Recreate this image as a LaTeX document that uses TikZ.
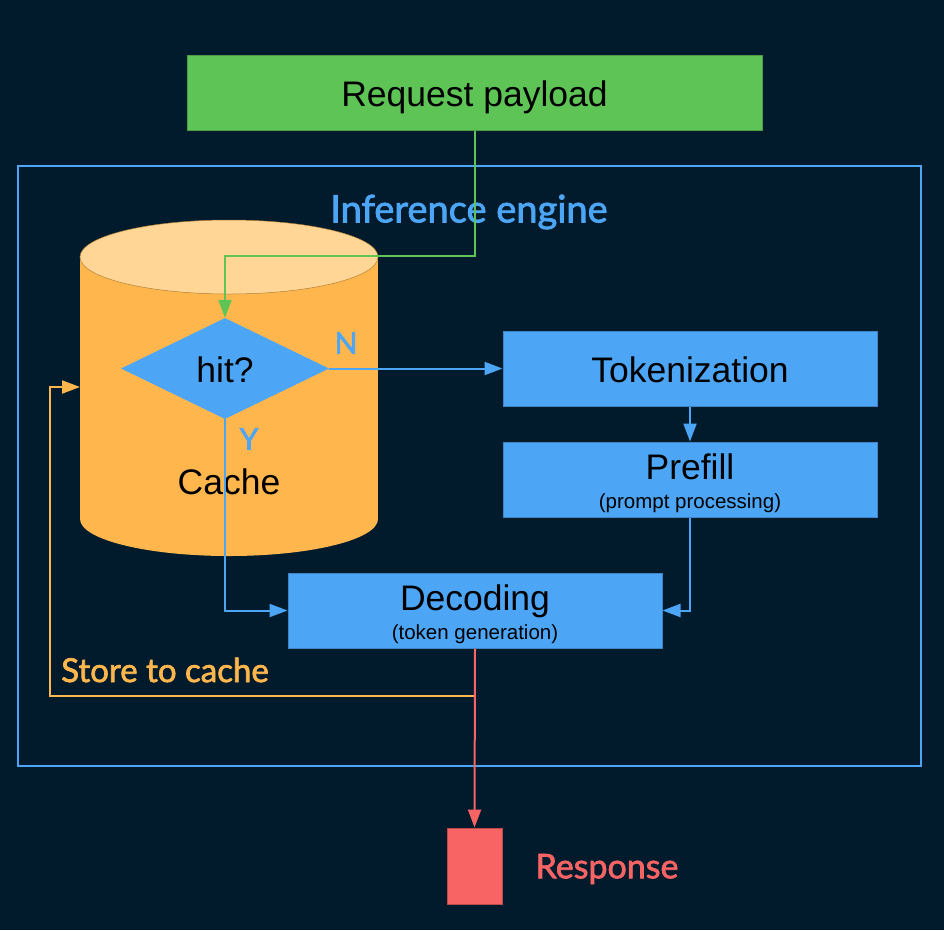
\documentclass[tikz,border=0pt]{standalone}
\usepackage{fontspec}
\setmainfont{Liberation Sans}
\newfontfamily\lblfont[FakeBold=2]{Lato}
\usetikzlibrary{arrows.meta,positioning,shapes.geometric}

\definecolor{navy}{RGB}{1,27,45}
\definecolor{reqgreen}{RGB}{93,196,85}
\definecolor{engblue}{RGB}{76,166,245}
\definecolor{cachebody}{RGB}{255,183,77}
\definecolor{cachetop}{RGB}{255,214,149}
\definecolor{resred}{RGB}{248,100,100}
\newcommand{\subtxt}{\fontsize{20.5}{24}\selectfont}
\newcommand{\lift}{\rule{0pt}{34pt}}

\begin{document}
\begin{tikzpicture}[x=1pt, y=-1pt,
  big/.style={font=\fontsize{35.5}{29}\selectfont},
  one/.style={text height=27pt, text depth=0pt},
  box/.style={draw=engblue!80!black, line width=1pt, fill=engblue, big, align=center,
    inner sep=0pt, minimum width=374pt, minimum height=75pt},
  decision/.style={diamond, fill=engblue, big, one, inner sep=0pt, aspect=2,
    minimum width=208pt, minimum height=101pt},
  lbl/.style={font=\lblfont\fontsize{34}{40}\selectfont, inner sep=0pt},
  arr/.style={-{Triangle[length=18pt,width=13pt]}, line width=2pt}]
\fill[navy] (0,0) rectangle (944,930);
\node[draw=reqgreen!80!black, line width=1pt, fill=reqgreen, big, one, inner sep=0pt,
  minimum width=575pt, minimum height=75pt] (request) at (474.5,92.5) {Request payload};
\node[draw=engblue, line width=2pt, minimum width=903pt, minimum height=600pt] (engine) at (469.5,466) {};
\node[lbl, text=engblue, font=\lblfont\fontsize{38}{44}\selectfont] (englbl) at (469,212) {Inference engine};
% cache drum
\fill[cachebody] (229,519) ellipse [x radius=149, y radius=37];
\fill[cachebody] (80,257) rectangle (378,519);
\fill[cachetop, draw=cachebody!70!black, line width=0.5pt] (229,257) ellipse [x radius=149, y radius=37];
\node[big, one] (cache) at (229,481) {Cache};
\coordinate (cachein) at (80,387);
\node[decision] (hit) at (225,368.5) {hit?};
\node[box, one] (tok) at (690,368.5) {Tokenization};
\node[box] (prefill) at (690,479.5) {\lift Prefill\\{\subtxt (prompt processing)}};
\node[box] (decode) at (475,610.5) {\lift Decoding\\{\subtxt (token generation)}};
\node[draw=resred!75!black, line width=1pt, fill=resred, minimum width=55pt,
  minimum height=76pt, inner sep=0pt] (resp) at (474.5,866) {};
\node[lbl, text=engblue, font=\lblfont\fontsize{30}{36}\selectfont] (nlbl) at (346,343) {N};
\node[lbl, text=engblue, font=\lblfont\fontsize{30}{36}\selectfont] (ylbl) at (249,439) {Y};
\node[lbl, text=cachebody, font=\lblfont\fontsize{33}{40}\selectfont] (storelbl) at (165,670) {Store to cache};
\node[lbl, text=resred] (resplbl) at (607,869) {Response};
\draw[arr, reqgreen] (request.south) -- ++(0,125) -| (hit.north);
\draw[arr, engblue] (hit.east) -- (tok.west);
\draw[arr, engblue] (tok.south) -- (prefill.north);
\draw[arr, engblue] (prefill.south) |- (decode.east);
\draw[arr, engblue] (hit.south) |- (decode.west);
\draw[arr, cachebody] ([yshift=-47pt]decode.south) -| ([xshift=-30pt]cachein) -- (cachein);
\draw[arr, resred] (decode.south) -- (resp.north);
\end{tikzpicture}
\end{document}
